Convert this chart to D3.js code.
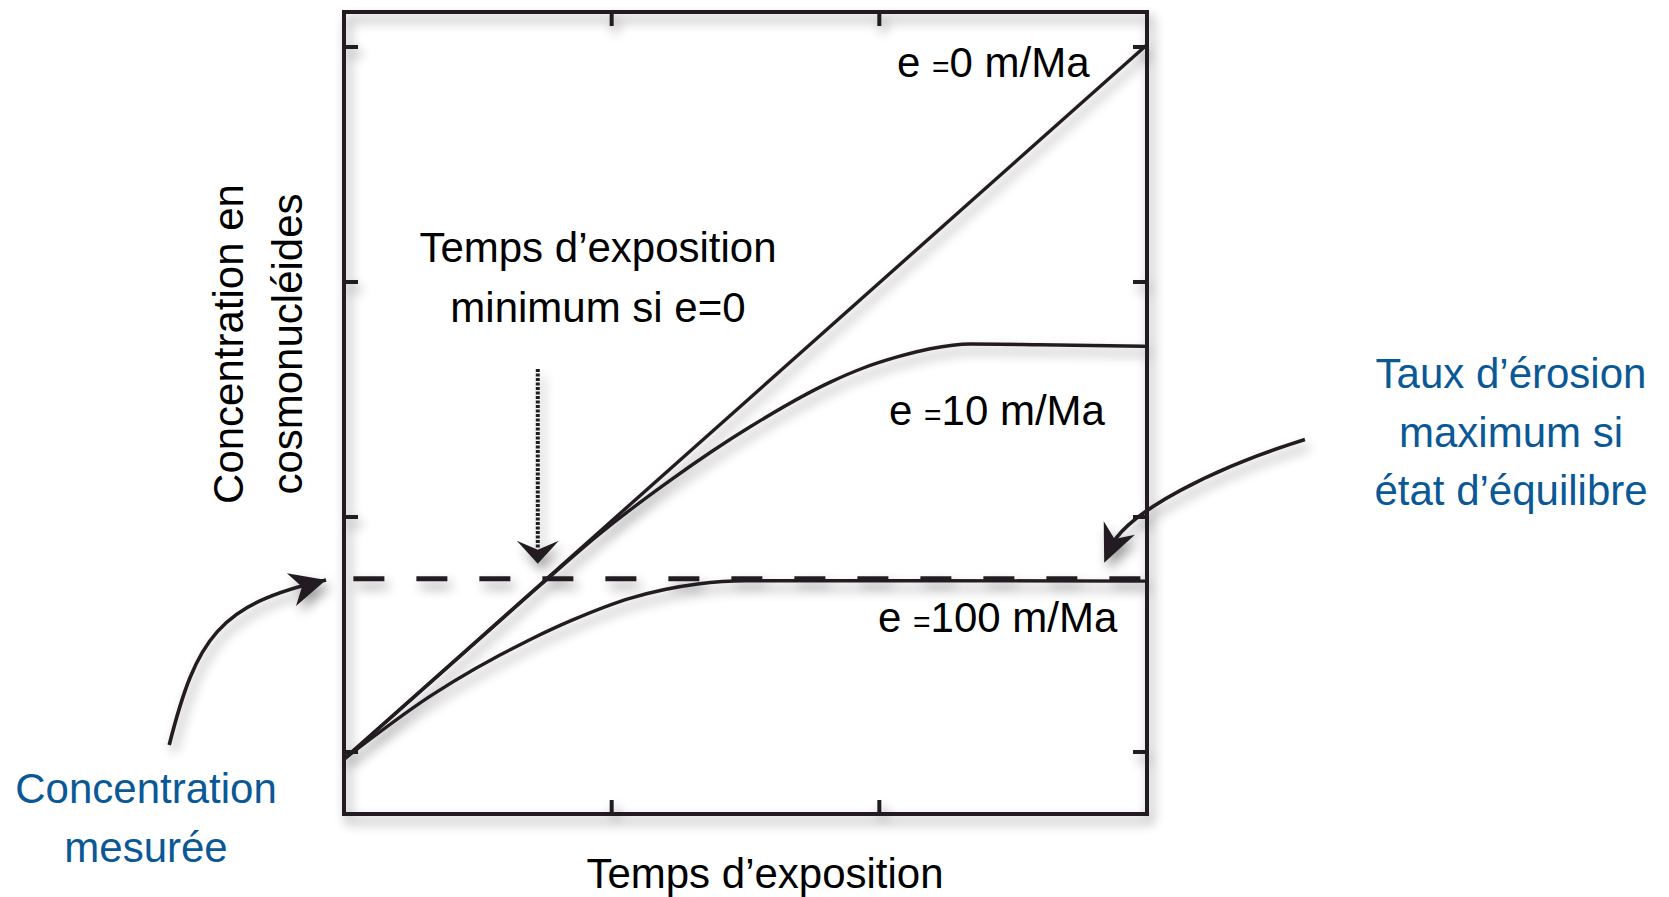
<!DOCTYPE html>
<html>
<head>
<meta charset="utf-8">
<script src="https://cdn.jsdelivr.net/npm/d3@7"></script>
<style>
	body { margin: 0; background: #fff; }
	svg { display: block; }
</style>
</head>
<body>
<div id="chart"></div>
<script>
// temps d'exposition (unites arbitraires) -> concentration (unites arbitraires)
const xTicks = [1, 2];
const yTicks = [0, 1, 2, 3];

const curveE0 = [[0, -0.03], [3, 3.01]];
const curveE10 = [[0, -0.03], [0.362, 0.335], [0.735, 0.712], [0.948, 0.922], [1.22, 1.157],
	[1.519, 1.385], [1.817, 1.574], [1.94, 1.634], [2.067, 1.681], [2.19, 1.716],
	[2.34, 1.736], [2.6, 1.733], [3, 1.726]];
const curveE100 = [[0, -0.03], [0.325, 0.24], [0.698, 0.48], [0.85, 0.56], [1.071, 0.655],
	[1.321, 0.715], [1.5, 0.729], [2.2, 0.729], [3, 0.727]];

const curveLabels = ["e =0 m/Ma", "e =10 m/Ma", "e =100 m/Ma"];
const labelPos = [[2.066, 2.872], [2.036, 1.391], [1.995, 0.511]];

const measuredConc = 0.737;      // ligne en tirets
const minTime = 0.724;           // fleche pointillee
const minTimeTop = 1.63;

const width = 1669, height = 897;
const frameFont = "'Liberation Sans', Arial, Helvetica, sans-serif";
const ink = "#231f20";
const blue = "#0a5896";

const svg = d3.select("#chart").append("svg")
	.attr("width", width)
	.attr("height", height);

const x = d3.scaleLinear().domain([0, 3]).range([344, 1147]);
const y = d3.scaleLinear().domain([0, 3]).range([752, 47]);
const yTop = 12, yBottom = 814;

// ombre portee comme dans l'illustration
const defs = svg.append("defs");
const shadow = defs.append("filter")
	.attr("id", "shadow")
	.attr("filterUnits", "userSpaceOnUse")
	.attr("x", 0).attr("y", 0)
	.attr("width", width).attr("height", height);
shadow.append("feGaussianBlur").attr("in", "SourceAlpha").attr("stdDeviation", 6).attr("result", "blur");
shadow.append("feOffset").attr("in", "blur").attr("dx", 4).attr("dy", 7).attr("result", "off");
shadow.append("feComponentTransfer").attr("in", "off").attr("result", "soft")
	.append("feFuncA").attr("type", "linear").attr("slope", 0.4);
const merge = shadow.append("feMerge");
merge.append("feMergeNode").attr("in", "soft");
merge.append("feMergeNode").attr("in", "SourceGraphic");

const g = svg.append("g").attr("filter", "url(#shadow)");

// cadre + graduations
g.append("rect")
	.attr("x", x(0))
	.attr("y", yTop)
	.attr("width", x(3) - x(0))
	.attr("height", yBottom - yTop)
	.style("fill", "none")
	.style("stroke", ink)
	.style("stroke-width", 4);

const tickLen = 14;
xTicks.forEach(t => {
	g.append("line")
		.attr("x1", x(t)).attr("x2", x(t))
		.attr("y1", yTop).attr("y2", yTop + tickLen)
		.style("stroke", ink).style("stroke-width", 4);
	g.append("line")
		.attr("x1", x(t)).attr("x2", x(t))
		.attr("y1", yBottom).attr("y2", yBottom - tickLen)
		.style("stroke", ink).style("stroke-width", 4);
});
yTicks.forEach(t => {
	g.append("line")
		.attr("x1", x(0)).attr("x2", x(0) + tickLen)
		.attr("y1", y(t)).attr("y2", y(t))
		.style("stroke", ink).style("stroke-width", 4);
	g.append("line")
		.attr("x1", x(3)).attr("x2", x(3) - tickLen)
		.attr("y1", y(t)).attr("y2", y(t))
		.style("stroke", ink).style("stroke-width", 4);
});

// courbes
const line = d3.line()
	.x(d => x(d[0]))
	.y(d => y(d[1]))
	.curve(d3.curveMonotoneX);

[curveE0, curveE10, curveE100].forEach(c => {
	g.append("path")
		.attr("d", line(c))
		.style("fill", "none")
		.style("stroke", ink)
		.style("stroke-width", 3.4)
		.style("stroke-linejoin", "round");
});

// concentration mesuree
g.append("line")
	.attr("x1", x(0.035)).attr("x2", x(3))
	.attr("y1", y(measuredConc)).attr("y2", y(measuredConc))
	.style("stroke", ink)
	.style("stroke-width", 5)
	.style("stroke-dasharray", "31,32");

// pointe de fleche : tip, direction, longueur, demi-largeur, encoche
function arrowHead(tip, dir, len, half, notch) {
	const n = Math.hypot(dir[0], dir[1]);
	const d = [dir[0] / n, dir[1] / n];
	const p = [-d[1], d[0]];
	const b = [tip[0] - d[0] * len, tip[1] - d[1] * len];
	const path = d3.path();
	path.moveTo(tip[0], tip[1]);
	path.lineTo(b[0] + p[0] * half, b[1] + p[1] * half);
	path.lineTo(tip[0] - d[0] * notch, tip[1] - d[1] * notch);
	path.lineTo(b[0] - p[0] * half, b[1] - p[1] * half);
	path.closePath();
	return path.toString();
}

// fleche pointillee (temps d'exposition minimum)
g.append("line")
	.attr("x1", x(minTime)).attr("x2", x(minTime))
	.attr("y1", y(minTimeTop)).attr("y2", y(measuredConc) - 30)
	.style("stroke", ink)
	.style("stroke-width", 4)
	.style("stroke-dasharray", "3,1.5");
g.append("path")
	.attr("d", arrowHead([x(minTime), y(measuredConc) - 15], [0, 1], 23, 21, 14))
	.style("fill", ink);

// fleches courbes (annotations hors cadre)
const leftArrow = [[-0.653, 0.03], [-0.552, 0.482], [-0.47, 0.63], [-0.067, 0.732]];
const rightArrow = [[3.59, 1.33], [3.24, 1.206], [2.94, 1.025], [2.84, 0.805]];

function bezier(pts) {
	const p = d3.path();
	p.moveTo(x(pts[0][0]), y(pts[0][1]));
	p.bezierCurveTo(x(pts[1][0]), y(pts[1][1]), x(pts[2][0]), y(pts[2][1]), x(pts[3][0]), y(pts[3][1]));
	return p.toString();
}

[leftArrow, rightArrow].forEach((a, i) => {
	const endPt = i === 0 ? a[3] : [a[3][0] + 0.03, a[3][1] + 0.08];
	g.append("path")
		.attr("d", bezier([a[0], a[1], a[2], endPt]))
		.style("fill", "none")
		.style("stroke", ink)
		.style("stroke-width", 3.6);
});
g.append("path")
	.attr("d", arrowHead([x(leftArrow[3][0]), y(leftArrow[3][1])], [0.96, -0.27], 36, 17, 25))
	.style("fill", ink);
g.append("path")
	.attr("d", arrowHead([x(rightArrow[3][0]), y(rightArrow[3][1])], [-0.4, 0.92], 38, 17, 26))
	.style("fill", ink);

// textes
const txt = svg.append("g")
	.style("font-family", frameFont)
	.style("font-size", "42px");

curveLabels.forEach((lab, i) => {
	const parts = lab.split("=");
	const t = txt.append("text")
		.attr("x", x(labelPos[i][0]))
		.attr("y", y(labelPos[i][1]))
		.style("fill", "#000");
	t.append("tspan").text(parts[0]);
	t.append("tspan").style("font-size", "30px").text("=");
	t.append("tspan").text(parts[1]);
});

txt.append("text")
	.attr("x", 598).attr("y", 262)
	.attr("text-anchor", "middle")
	.text("Temps d\u2019exposition");
txt.append("text")
	.attr("x", 598).attr("y", 322)
	.attr("text-anchor", "middle")
	.text("minimum si e=0");

// titres des axes
txt.append("text")
	.attr("x", 765).attr("y", 888)
	.attr("text-anchor", "middle")
	.text("Temps d\u2019exposition");

const yTitle = ["Concentration en", "cosmonucl\u00e9ides"];
yTitle.forEach((s, i) => {
	txt.append("text")
		.attr("transform", `translate(${243 + i * 59}, 344) rotate(-90)`)
		.attr("text-anchor", "middle")
		.text(s);
});

// annotations en bleu
const leftNote = ["Concentration", "mesur\u00e9e"];
leftNote.forEach((s, i) => {
	txt.append("text")
		.attr("x", 146).attr("y", 803 + i * 59)
		.attr("text-anchor", "middle")
		.style("fill", blue)
		.text(s);
});

const rightNote = ["Taux d\u2019\u00e9rosion", "maximum si", "\u00e9tat d\u2019\u00e9quilibre"];
rightNote.forEach((s, i) => {
	txt.append("text")
		.attr("x", 1511).attr("y", 388 + i * 58.5)
		.attr("text-anchor", "middle")
		.style("fill", blue)
		.text(s);
});
</script>
</body>
</html>
